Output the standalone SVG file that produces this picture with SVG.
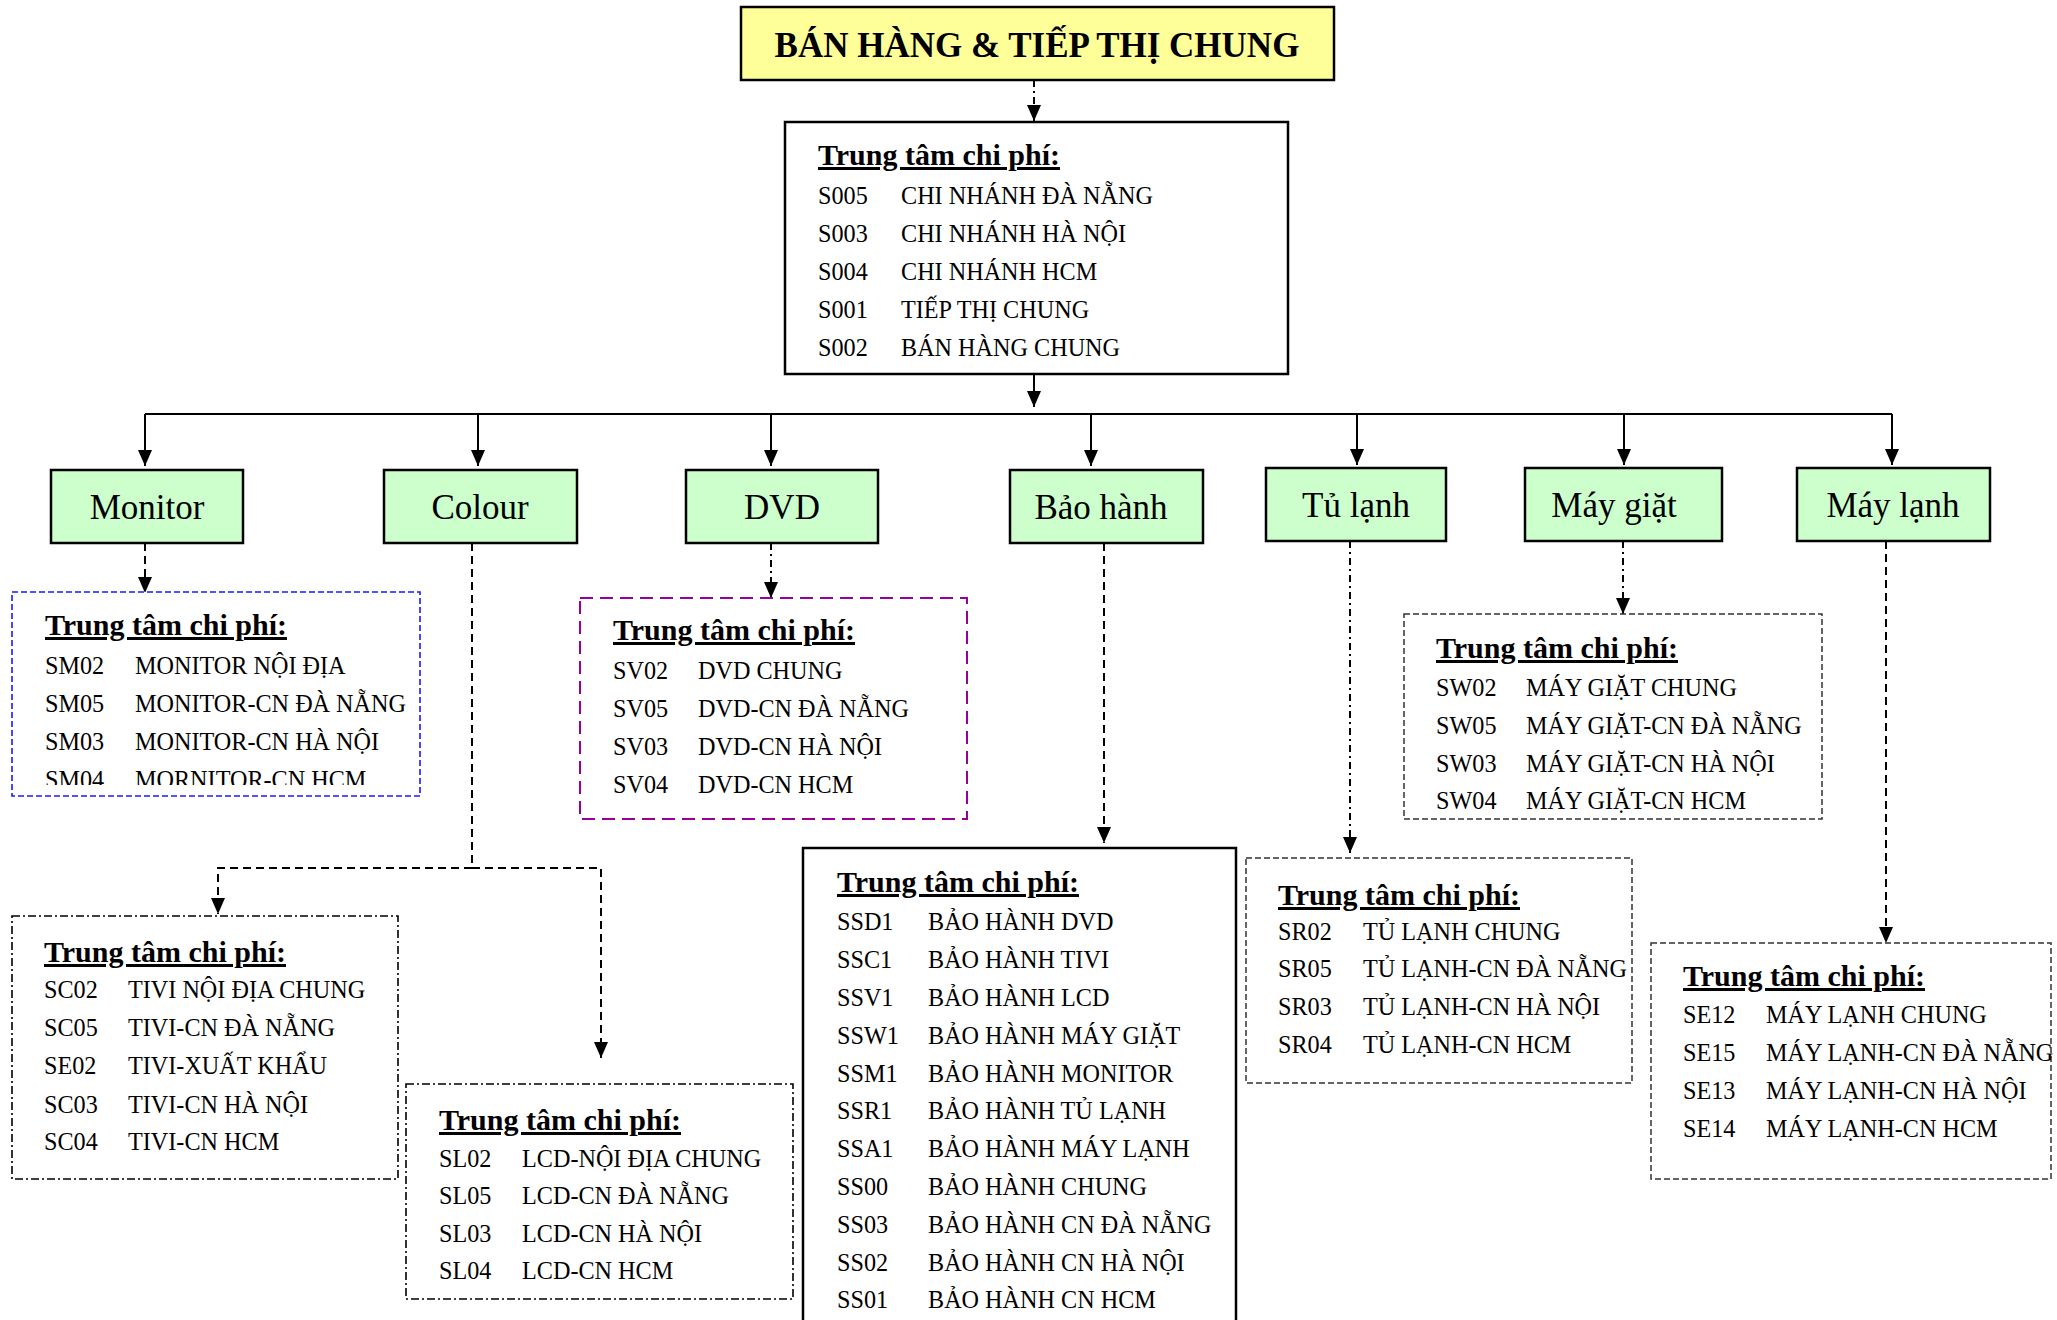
<svg xmlns="http://www.w3.org/2000/svg" width="2057" height="1320" viewBox="0 0 2057 1320">
  <style>
    text { font-family: "Liberation Serif", "Times New Roman", serif; fill: #000; }
    .title { font-size: 35px; font-weight: bold; }
    .lbl { font-size: 35px; }
    .hd { font-size: 30px; font-weight: bold; text-decoration: underline; }
    .row { font-size: 24.2px; }
    .solid { fill: #fff; stroke: #000; stroke-width: 2.5; }
    .green { fill: #ccffcc; stroke: #000; stroke-width: 2.5; }
    .yellow { fill: #ffff99; stroke: #000; stroke-width: 2.5; }
    .b-blue { fill: #fff; stroke: #1a1aff; stroke-width: 1.6; stroke-dasharray: 6 3; }
    .b-purple { fill: #fff; stroke: #990099; stroke-width: 2; stroke-dasharray: 13 7; }
    .b-dashdot { fill: #fff; stroke: #000; stroke-width: 1.6; stroke-dasharray: 8 3 2 3; }
    .b-grey { fill: #fff; stroke: #333; stroke-width: 1.5; stroke-dasharray: 6 3; }
    .c { fill: none; stroke: #000; stroke-width: 2; }
    .c-dash { stroke-dasharray: 8 5; }
    .c-dashdot { stroke-dasharray: 7 4 2 4; }
  </style>
  <defs>
    <marker id="arr" viewBox="0 0 16 14" markerUnits="userSpaceOnUse" markerWidth="16" markerHeight="14" refX="16" refY="7" orient="auto">
      <path d="M0,0 L16,7 L0,14 z" fill="#000"/>
    </marker>
    <clipPath id="clip-monitor">
      <rect x="12" y="592" width="408" height="193"/>
    </clipPath>
  </defs>

  <rect width="2057" height="1320" fill="#fff"/>

  <!-- connectors -->
  <g id="connectors">
    <line class="c c-dashdot" x1="1034" y1="80" x2="1034" y2="121" marker-end="url(#arr)"/>
    <line class="c" x1="1034" y1="374" x2="1034" y2="407" marker-end="url(#arr)"/>
    <polyline class="c" points="145,414 1892,414"/>
    <line class="c" x1="145" y1="414" x2="145" y2="466" marker-end="url(#arr)"/>
    <line class="c" x1="478" y1="414" x2="478" y2="466" marker-end="url(#arr)"/>
    <line class="c" x1="771" y1="414" x2="771" y2="466" marker-end="url(#arr)"/>
    <line class="c" x1="1091" y1="414" x2="1091" y2="466" marker-end="url(#arr)"/>
    <line class="c" x1="1357" y1="414" x2="1357" y2="465" marker-end="url(#arr)"/>
    <line class="c" x1="1624" y1="414" x2="1624" y2="465" marker-end="url(#arr)"/>
    <line class="c" x1="1892" y1="414" x2="1892" y2="465" marker-end="url(#arr)"/>
    <!-- Monitor -->
    <line class="c c-dash" x1="145" y1="543" x2="145" y2="593" marker-end="url(#arr)"/>
    <!-- Colour splits to TIVI and LCD -->
    <polyline class="c c-dash" points="472,543 472,868"/>
    <polyline class="c c-dash" points="472,868 218,868 218,914" marker-end="url(#arr)"/>
    <polyline class="c c-dash" points="472,868 601,868 601,1058" marker-end="url(#arr)"/>
    <!-- DVD -->
    <line class="c c-dashdot" x1="771" y1="543" x2="771" y2="598" marker-end="url(#arr)"/>
    <!-- Bảo hành -->
    <line class="c c-dash" x1="1104" y1="543" x2="1104" y2="843" marker-end="url(#arr)"/>
    <!-- Tủ lạnh -->
    <line class="c c-dashdot" x1="1350" y1="541" x2="1350" y2="853" marker-end="url(#arr)"/>
    <!-- Máy giặt -->
    <line class="c c-dashdot" x1="1623" y1="541" x2="1623" y2="614" marker-end="url(#arr)"/>
    <!-- Máy lạnh -->
    <line class="c c-dash" x1="1886" y1="541" x2="1886" y2="943" marker-end="url(#arr)"/>
  </g>

  <g id="root">
    <rect class="yellow" x="741" y="7" width="593" height="73"/>
    <text class="title" x="1037" y="57" text-anchor="middle">BÁN HÀNG &amp; TIẾP THỊ CHUNG</text>
  </g>

  <g id="cc-main">
    <rect class="solid" x="785" y="122" width="503" height="252"/>
    <text class="hd" x="818" y="165">Trung tâm chi phí:</text>
    <text class="row" x="818" y="204">S005</text><text class="row" x="901" y="204">CHI NHÁNH ĐÀ NẴNG</text>
    <text class="row" x="818" y="242">S003</text><text class="row" x="901" y="242">CHI NHÁNH HÀ NỘI</text>
    <text class="row" x="818" y="280">S004</text><text class="row" x="901" y="280">CHI NHÁNH HCM</text>
    <text class="row" x="818" y="318">S001</text><text class="row" x="901" y="318">TIẾP THỊ CHUNG</text>
    <text class="row" x="818" y="356">S002</text><text class="row" x="901" y="356">BÁN HÀNG CHUNG</text>
  </g>

  <g id="n-monitor">
    <rect class="green" x="51" y="470" width="192" height="73"/>
    <text class="lbl" x="147" y="519" text-anchor="middle">Monitor</text>
  </g>
  <g id="n-colour">
    <rect class="green" x="384" y="470" width="193" height="73"/>
    <text class="lbl" x="480" y="519" text-anchor="middle">Colour</text>
  </g>
  <g id="n-dvd">
    <rect class="green" x="686" y="470" width="192" height="73"/>
    <text class="lbl" x="782" y="519" text-anchor="middle">DVD</text>
  </g>
  <g id="n-baohanh">
    <rect class="green" x="1010" y="470" width="193" height="73"/>
    <text class="lbl" x="1101" y="519" text-anchor="middle">Bảo hành</text>
  </g>
  <g id="n-tulanh">
    <rect class="green" x="1266" y="468" width="180" height="73"/>
    <text class="lbl" x="1356" y="517" text-anchor="middle">Tủ lạnh</text>
  </g>
  <g id="n-maygiat">
    <rect class="green" x="1525" y="468" width="197" height="73"/>
    <text class="lbl" x="1614" y="517" text-anchor="middle">Máy giặt</text>
  </g>
  <g id="n-maylanh">
    <rect class="green" x="1797" y="468" width="193" height="73"/>
    <text class="lbl" x="1893" y="517" text-anchor="middle">Máy lạnh</text>
  </g>

  <g id="cc-monitor">
    <rect class="b-blue" x="12" y="592" width="408" height="204"/>
    <g clip-path="url(#clip-monitor)">
      <text class="hd" x="45" y="635">Trung tâm chi phí:</text>
      <text class="row" x="45" y="674">SM02</text><text class="row" x="135" y="674">MONITOR NỘI ĐỊA</text>
      <text class="row" x="45" y="712">SM05</text><text class="row" x="135" y="712">MONITOR-CN ĐÀ NẴNG</text>
      <text class="row" x="45" y="750">SM03</text><text class="row" x="135" y="750">MONITOR-CN HÀ NỘI</text>
      <text class="row" x="45" y="788">SM04</text><text class="row" x="135" y="788">MORNITOR-CN HCM</text>
    </g>
  </g>

  <g id="cc-dvd">
    <rect class="b-purple" x="580" y="598" width="387" height="221"/>
    <text class="hd" x="613" y="640">Trung tâm chi phí:</text>
    <text class="row" x="613" y="679">SV02</text><text class="row" x="698" y="679">DVD CHUNG</text>
    <text class="row" x="613" y="717">SV05</text><text class="row" x="698" y="717">DVD-CN ĐÀ NẴNG</text>
    <text class="row" x="613" y="755">SV03</text><text class="row" x="698" y="755">DVD-CN HÀ NỘI</text>
    <text class="row" x="613" y="793">SV04</text><text class="row" x="698" y="793">DVD-CN HCM</text>
  </g>

  <g id="cc-tivi">
    <rect class="b-dashdot" x="12" y="916" width="386" height="263"/>
    <text class="hd" x="44" y="962">Trung tâm chi phí:</text>
    <text class="row" x="44" y="998">SC02</text><text class="row" x="128" y="998">TIVI NỘI ĐỊA CHUNG</text>
    <text class="row" x="44" y="1036">SC05</text><text class="row" x="128" y="1036">TIVI-CN ĐÀ NẴNG</text>
    <text class="row" x="44" y="1074">SE02</text><text class="row" x="128" y="1074">TIVI-XUẤT KHẨU</text>
    <text class="row" x="44" y="1113">SC03</text><text class="row" x="128" y="1113">TIVI-CN HÀ NỘI</text>
    <text class="row" x="44" y="1150">SC04</text><text class="row" x="128" y="1150">TIVI-CN HCM</text>
  </g>

  <g id="cc-lcd">
    <rect class="b-dashdot" x="406" y="1084" width="387" height="215"/>
    <text class="hd" x="439" y="1130">Trung tâm chi phí:</text>
    <text class="row" x="439" y="1167">SL02</text><text class="row" x="522" y="1167">LCD-NỘI ĐỊA CHUNG</text>
    <text class="row" x="439" y="1204">SL05</text><text class="row" x="522" y="1204">LCD-CN ĐÀ NẴNG</text>
    <text class="row" x="439" y="1242">SL03</text><text class="row" x="522" y="1242">LCD-CN HÀ NỘI</text>
    <text class="row" x="439" y="1279">SL04</text><text class="row" x="522" y="1279">LCD-CN HCM</text>
  </g>

  <g id="cc-baohanh">
    <rect class="solid" x="803" y="848" width="433" height="490"/>
    <text class="hd" x="837" y="892">Trung tâm chi phí:</text>
    <text class="row" x="837" y="930">SSD1</text><text class="row" x="928" y="930">BẢO HÀNH DVD</text>
    <text class="row" x="837" y="968">SSC1</text><text class="row" x="928" y="968">BẢO HÀNH TIVI</text>
    <text class="row" x="837" y="1006">SSV1</text><text class="row" x="928" y="1006">BẢO HÀNH LCD</text>
    <text class="row" x="837" y="1044">SSW1</text><text class="row" x="928" y="1044">BẢO HÀNH MÁY GIẶT</text>
    <text class="row" x="837" y="1082">SSM1</text><text class="row" x="928" y="1082">BẢO HÀNH MONITOR</text>
    <text class="row" x="837" y="1119">SSR1</text><text class="row" x="928" y="1119">BẢO HÀNH TỦ LẠNH</text>
    <text class="row" x="837" y="1157">SSA1</text><text class="row" x="928" y="1157">BẢO HÀNH MÁY LẠNH</text>
    <text class="row" x="837" y="1195">SS00</text><text class="row" x="928" y="1195">BẢO HÀNH CHUNG</text>
    <text class="row" x="837" y="1233">SS03</text><text class="row" x="928" y="1233">BẢO HÀNH CN ĐÀ NẴNG</text>
    <text class="row" x="837" y="1271">SS02</text><text class="row" x="928" y="1271">BẢO HÀNH CN HÀ NỘI</text>
    <text class="row" x="837" y="1308">SS01</text><text class="row" x="928" y="1308">BẢO HÀNH CN HCM</text>
  </g>

  <g id="cc-tulanh">
    <rect class="b-grey" x="1246" y="858" width="386" height="225"/>
    <text class="hd" x="1278" y="905">Trung tâm chi phí:</text>
    <text class="row" x="1278" y="940">SR02</text><text class="row" x="1363" y="940">TỦ LẠNH CHUNG</text>
    <text class="row" x="1278" y="977">SR05</text><text class="row" x="1363" y="977">TỦ LẠNH-CN ĐÀ NẴNG</text>
    <text class="row" x="1278" y="1015">SR03</text><text class="row" x="1363" y="1015">TỦ LẠNH-CN HÀ NỘI</text>
    <text class="row" x="1278" y="1053">SR04</text><text class="row" x="1363" y="1053">TỦ LẠNH-CN HCM</text>
  </g>

  <g id="cc-maygiat">
    <rect class="b-grey" x="1404" y="614" width="418" height="205"/>
    <text class="hd" x="1436" y="658">Trung tâm chi phí:</text>
    <text class="row" x="1436" y="696">SW02</text><text class="row" x="1526" y="696">MÁY GIẶT CHUNG</text>
    <text class="row" x="1436" y="734">SW05</text><text class="row" x="1526" y="734">MÁY GIẶT-CN ĐÀ NẴNG</text>
    <text class="row" x="1436" y="772">SW03</text><text class="row" x="1526" y="772">MÁY GIẶT-CN HÀ NỘI</text>
    <text class="row" x="1436" y="809">SW04</text><text class="row" x="1526" y="809">MÁY GIẶT-CN HCM</text>
  </g>

  <g id="cc-maylanh">
    <rect class="b-grey" x="1651" y="943" width="400" height="236"/>
    <text class="hd" x="1683" y="986">Trung tâm chi phí:</text>
    <text class="row" x="1683" y="1023">SE12</text><text class="row" x="1766" y="1023">MÁY LẠNH CHUNG</text>
    <text class="row" x="1683" y="1061">SE15</text><text class="row" x="1766" y="1061">MÁY LẠNH-CN ĐÀ NẴNG</text>
    <text class="row" x="1683" y="1099">SE13</text><text class="row" x="1766" y="1099">MÁY LẠNH-CN HÀ NỘI</text>
    <text class="row" x="1683" y="1137">SE14</text><text class="row" x="1766" y="1137">MÁY LẠNH-CN HCM</text>
  </g>
</svg>
